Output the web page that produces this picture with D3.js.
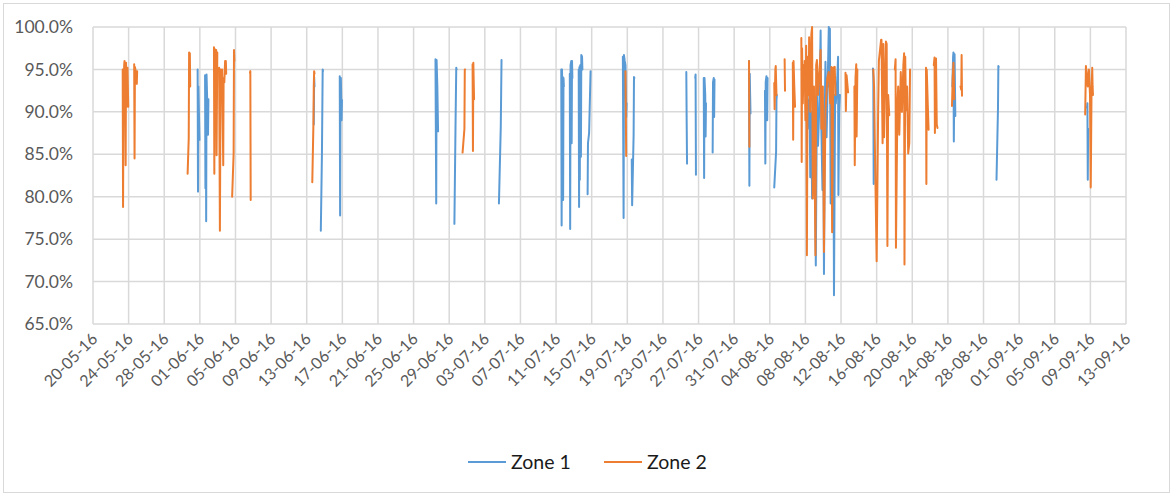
<!DOCTYPE html>
<html>
<head>
<meta charset="utf-8">
<script src="https://cdn.jsdelivr.net/npm/d3@7/dist/d3.min.js"></script>
<style>
  html, body { margin: 0; padding: 0; background: #fff; }
  svg { display: block; }
</style>
</head>
<body>
<svg id="chart" width="1173" height="496"></svg>
<script>
// Axis labels
const xTickLabels = [
  "20-05-16","24-05-16","28-05-16","01-06-16","05-06-16","09-06-16","13-06-16","17-06-16",
  "21-06-16","25-06-16","29-06-16","03-07-16","07-07-16","11-07-16","15-07-16","19-07-16",
  "23-07-16","27-07-16","31-07-16","04-08-16","08-08-16","12-08-16","16-08-16","20-08-16",
  "24-08-16","28-08-16","01-09-16","05-09-16","09-09-16","13-09-16"
];
const yTicks = [0.65, 0.70, 0.75, 0.80, 0.85, 0.90, 0.95, 1.00];
const seriesNames = ["Zone 1", "Zone 2"];

// Hourly readings in % ("MM-DD HH:MM" of 2016); null marks a gap in the record
const zone1 = [
  ["05-31 18:00",95.0],["05-31 19:00",80.6],["05-31 20:00",93.0],["05-31 23:00",86.7], null,
  ["06-01 14:00",94.3],["06-01 15:00",81.0],["06-01 16:00",94.0],["06-01 17:00",77.1],["06-01 18:00",94.4],["06-01 20:00",91.0],["06-01 22:00",87.3],["06-01 23:00",91.5], null,
  ["06-13 19:00",88.5],["06-13 20:00",94.1],["06-13 21:00",93.0], null,
  ["06-14 14:00",76.0],["06-14 17:00",85.0],["06-14 19:00",95.0],["06-14 20:00",94.8], null,
  ["06-16 17:00",94.2],["06-16 18:00",77.8],["06-16 19:00",93.0],["06-16 20:00",94.0],["06-16 22:00",89.0],["06-16 23:00",91.4], null,
  ["06-27 11:00",96.2],["06-27 13:00",79.2],["06-27 14:00",96.1],["06-27 16:00",93.0],["06-27 18:00",87.7], null,
  ["06-29 14:00",76.8],["06-29 17:00",88.3],["06-29 19:00",95.2],["06-29 20:00",95.0], null,
  ["07-04 14:00",79.2],["07-04 19:00",88.3],["07-04 21:00",96.1], null,
  ["07-11 14:00",95.0],["07-11 15:00",76.6],["07-11 16:00",95.0],["07-11 17:00",92.0],["07-11 18:00",94.1],["07-11 19:00",79.6],["07-11 20:00",94.0],["07-11 21:00",93.0], null,
  ["07-12 13:00",94.5],["07-12 14:00",76.2],["07-12 15:00",95.5],["07-12 17:00",96.0],["07-12 18:00",86.3],["07-12 19:00",96.0],["07-12 20:00",94.0], null,
  ["07-13 13:00",95.0],["07-13 14:00",78.8],["07-13 15:00",95.3],["07-13 16:00",82.0],["07-13 17:00",95.5],["07-13 19:00",84.7],["07-13 20:00",96.7],["07-13 22:00",96.5],["07-13 23:00",95.0], null,
  ["07-14 13:00",80.3],["07-14 14:00",86.3],["07-14 17:00",87.5],["07-14 21:00",94.8], null,
  ["07-18 12:00",96.5],["07-18 14:00",77.5],["07-18 15:00",96.7],["07-18 17:00",96.0],["07-18 19:00",95.5],["07-18 21:00",89.4],["07-18 22:00",91.0], null,
  ["07-19 12:00",84.4],["07-19 13:00",79.0],["07-19 17:00",87.3],["07-19 18:00",94.1],["07-19 19:00",94.0], null,
  ["07-25 15:00",94.7],["07-25 16:00",88.8],["07-25 17:00",83.9], null,
  ["07-26 15:00",94.0],["07-26 16:00",94.4],["07-26 17:00",82.6], null,
  ["07-27 14:00",94.0],["07-27 15:00",82.2],["07-27 16:00",94.0],["07-27 18:00",92.0],["07-27 19:00",87.1],["07-27 20:00",91.0], null,
  ["07-28 14:00",85.2],["07-28 15:00",93.5],["07-28 17:00",94.0],["07-28 18:00",89.4],["07-28 19:00",93.8], null,
  ["08-01 16:00",96.0],["08-01 17:00",81.3],["08-01 18:00",94.5],["08-01 19:00",92.0],["08-01 20:00",89.8], null,
  ["08-03 11:00",92.5],["08-03 12:00",83.9],["08-03 13:00",93.5],["08-03 15:00",94.2],["08-03 17:00",89.0],["08-03 18:00",94.0], null,
  ["08-04 12:00",81.1],["08-04 17:00",85.3],["08-04 18:00",91.4],["08-04 19:00",92.0], null,
  ["08-08 07:00",91.4],["08-08 10:00",88.0],["08-08 11:00",93.0],["08-08 13:00",82.3],["08-08 16:00",90.0],["08-08 18:00",79.8],["08-08 20:00",92.0],
  ["08-09 01:00",89.0],["08-09 04:00",71.9],["08-09 07:00",92.0],["08-09 10:00",86.0],["08-09 13:00",90.0],["08-09 15:00",94.0],["08-09 17:00",99.6],["08-09 19:00",88.0],["08-09 22:00",80.8],
  ["08-10 00:00",90.0],["08-10 02:00",70.9],["08-10 05:00",93.0],["08-10 06:00",95.9],["08-10 09:00",87.0],["08-10 11:00",91.0],["08-10 15:00",100.0],["08-10 16:00",93.0],["08-10 18:00",99.8],["08-10 20:00",79.2],["08-10 23:00",90.0],
  ["08-11 01:00",93.0],["08-11 03:00",95.0],["08-11 05:00",68.4],["08-11 08:00",92.0],["08-11 10:00",91.0],["08-11 14:00",94.0],["08-11 16:00",96.5],["08-11 17:00",80.2],["08-11 19:00",90.0],["08-11 21:00",92.0], null,
  ["08-15 14:00",95.1],["08-15 15:00",94.0],["08-15 16:00",81.5],["08-15 17:00",86.0], null,
  ["08-24 12:00",93.0],["08-24 14:00",96.5],["08-24 15:00",97.0],["08-24 16:00",86.5],["08-24 18:00",96.8],["08-24 20:00",89.5], null,
  ["08-29 11:00",82.0],["08-29 15:00",90.4],["08-29 16:00",95.4],["08-29 17:00",95.3], null,
  ["09-08 15:00",90.5],["09-08 16:00",91.0],["09-08 17:00",82.0],["09-08 18:00",88.0]
];

const zone2 = [
  ["05-23 08:00",95.0],["05-23 09:00",78.8],["05-23 10:00",90.6],["05-23 12:00",95.5],["05-23 13:00",96.0],["05-23 15:00",90.6],["05-23 16:00",83.7],["05-23 17:00",95.8],["05-23 19:00",90.6],["05-23 21:00",95.2],["05-23 23:00",90.6], null,
  ["05-24 15:00",95.6],["05-24 16:00",84.5],["05-24 17:00",95.3],["05-24 20:00",94.6],["05-24 22:00",93.3],["05-24 23:00",94.8], null,
  ["05-30 15:00",82.7],["05-30 18:00",86.9],["05-30 19:00",97.0],["05-30 21:00",96.9],["05-30 22:00",93.0], null,
  ["06-02 14:00",97.6],["06-02 15:00",82.7],["06-02 16:00",97.4],["06-02 18:00",90.0],["06-02 20:00",97.3],["06-02 21:00",84.9],["06-02 23:00",97.0], null,
  ["06-03 04:00",95.2],["06-03 06:00",76.0],["06-03 08:00",95.0],["06-03 10:00",92.0],["06-03 12:00",95.0],["06-03 15:00",83.7],["06-03 16:00",94.0],["06-03 18:00",93.5],["06-03 20:00",96.0],["06-03 22:00",96.0],["06-03 23:00",94.5], null,
  ["06-04 15:00",80.0],["06-04 19:00",85.1],["06-04 20:00",97.3],["06-04 21:00",96.0], null,
  ["06-06 15:00",94.6],["06-06 16:00",94.8],["06-06 17:00",79.6], null,
  ["06-13 15:00",81.7],["06-13 18:00",88.5],["06-13 19:00",93.0],["06-13 20:00",94.8],["06-13 21:00",94.5], null,
  ["06-30 12:00",85.2],["06-30 17:00",88.0],["06-30 18:00",95.0],["06-30 19:00",95.0], null,
  ["07-01 15:00",95.6],["07-01 16:00",85.4],["07-01 17:00",95.8],["07-01 19:00",91.5], null,
  ["07-18 19:00",94.8],["07-18 20:00",90.0],["07-18 21:00",84.8], null,
  ["08-01 16:00",96.0],["08-01 17:00",85.9], null,
  ["08-04 12:00",93.4],["08-04 13:00",90.3],["08-04 15:00",95.0],["08-04 16:00",95.4],["08-04 18:00",92.0], null,
  ["08-05 16:00",96.2],["08-05 17:00",92.5], null,
  ["08-06 14:00",95.8],["08-06 15:00",86.7],["08-06 16:00",96.0],["08-06 18:00",93.0],["08-06 20:00",90.6], null,
  ["08-07 13:00",98.7],["08-07 14:00",84.1],["08-07 15:00",97.5],["08-07 17:00",91.0],["08-07 19:00",95.5],["08-07 20:00",93.0], null,
  ["08-07 22:00",96.0],["08-08 00:00",89.0],["08-08 02:00",97.8],["08-08 04:00",73.1],["08-08 06:00",96.5],["08-08 09:00",92.0],["08-08 10:00",98.8],["08-08 13:00",90.0],["08-08 16:00",99.2],["08-08 18:00",100.0],["08-08 20:00",79.8],["08-08 23:00",93.0],
  ["08-09 03:00",73.1],["08-09 05:00",95.5],["08-09 07:00",96.1],["08-09 10:00",92.0],["08-09 13:00",94.0],["08-09 17:00",97.3],["08-09 19:00",88.0],["08-09 23:00",93.0],
  ["08-10 02:00",73.5],["08-10 06:00",90.0],["08-10 11:00",94.0],["08-10 15:00",94.7],["08-10 19:00",91.0],["08-10 22:00",95.3],
  ["08-11 00:00",75.8],["08-11 03:00",95.2],["08-11 07:00",95.3],["08-11 09:00",92.0], null,
  ["08-12 12:00",94.6],["08-12 13:00",90.1],["08-12 15:00",94.3],["08-12 19:00",92.3], null,
  ["08-13 12:00",93.0],["08-13 13:00",83.7],["08-13 15:00",94.0],["08-13 17:00",95.6],["08-13 18:00",87.1],["08-13 20:00",95.0], null,
  ["08-15 15:00",95.0],["08-15 17:00",93.0],["08-15 19:00",86.7],["08-16 00:00",72.4],["08-16 04:00",90.0],["08-16 06:00",96.0],["08-16 12:00",98.5],["08-16 13:00",98.5],["08-16 16:00",86.3],["08-16 18:00",98.0],["08-16 20:00",87.0],
  ["08-17 01:00",98.3],["08-17 03:00",98.0],["08-17 05:00",74.2],["08-17 07:00",92.0],["08-17 10:00",89.6], null,
  ["08-18 01:00",95.0],["08-18 03:00",96.2],["08-18 04:00",74.0],["08-18 08:00",91.0],["08-18 10:00",93.0],["08-18 13:00",87.3],["08-18 17:00",94.7],["08-18 20:00",90.0],
  ["08-19 00:00",95.5],["08-19 02:00",96.9],["08-19 03:00",72.0],["08-19 05:00",96.5],["08-19 07:00",90.2],["08-19 10:00",93.0],["08-19 13:00",85.1],["08-19 16:00",86.3],["08-19 18:00",95.0], null,
  ["08-21 13:00",95.2],["08-21 14:00",81.5],["08-21 15:00",95.0],["08-21 18:00",90.5],["08-21 20:00",87.9], null,
  ["08-22 10:00",95.5],["08-22 12:00",96.4],["08-22 13:00",87.5],["08-22 16:00",96.3],["08-22 18:00",88.5],["08-22 20:00",88.1], null,
  ["08-24 11:00",90.7],["08-24 13:00",94.0],["08-24 15:00",95.8],["08-24 17:00",91.5], null,
  ["08-25 10:00",93.0],["08-25 12:00",92.6],["08-25 13:00",96.7],["08-25 14:00",91.9], null,
  ["09-08 10:00",89.7],["09-08 12:00",95.4],["09-08 14:00",94.5],["09-08 17:00",93.0],["09-08 20:00",95.0],["09-08 23:00",92.0],
  ["09-09 01:00",81.1],["09-09 03:00",92.0],["09-09 05:00",95.2],["09-09 06:00",93.0],["09-09 07:00",92.0]
];

const colors = ["#5B9BD5", "#ED7D31"];

// ---- layout ----
const W = 1173, H = 496;
const plot = { left: 93, right: 1126, top: 27, bottom: 324 };
const labelColor = "#595959";
const gridColor = "#d9d9d9";
const fontFamily = "Lato, 'Open Sans', sans-serif";

const svg = d3.select("#chart");

svg.append("rect")
  .attr("x", 3.5).attr("y", 3.5)
  .attr("width", W - 7).attr("height", H - 7)
  .attr("fill", "#fff").attr("stroke", gridColor).attr("stroke-width", 1);

const parseTick = d3.utcParse("%d-%m-%y");
const parseTime = s => d3.utcParse("%Y-%m-%d %H:%M")("2016-" + s);
const tickDates = xTickLabels.map(parseTick);

const x = d3.scaleUtc()
  .domain([tickDates[0], tickDates[tickDates.length - 1]])
  .range([plot.left, plot.right]);
const y = d3.scaleLinear().domain([0.65, 1.0]).range([plot.bottom, plot.top]);

// gridlines
const grid = svg.append("g");
grid.selectAll("line.h").data(yTicks).join("line")
  .attr("x1", plot.left).attr("x2", plot.right)
  .attr("y1", d => y(d)).attr("y2", d => y(d))
  .attr("stroke", gridColor).attr("stroke-width", 1.5);
grid.selectAll("line.v").data(tickDates).join("line")
  .attr("x1", d => x(d)).attr("x2", d => x(d))
  .attr("y1", plot.top).attr("y2", plot.bottom)
  .attr("stroke", gridColor).attr("stroke-width", 1.5);

// y axis labels
const yAxis = d3.axisLeft(y).tickValues(yTicks).tickFormat(d3.format(".1%")).tickSize(0).tickPadding(20);
svg.append("g").attr("transform", `translate(${plot.left},0)`).call(yAxis)
  .call(g => g.select(".domain").remove())
  .selectAll("text")
  .attr("fill", labelColor).attr("font-family", fontFamily).attr("font-size", 17.5);

// x axis labels, rotated
const xAxis = d3.axisBottom(x).tickValues(tickDates).tickFormat((d, i) => xTickLabels[i]).tickSize(0);
svg.append("g").attr("transform", `translate(0,${plot.bottom})`).call(xAxis)
  .call(g => g.select(".domain").remove())
  .selectAll("text")
  .attr("fill", labelColor).attr("font-family", fontFamily).attr("font-size", 16)
  .attr("text-anchor", "end")
  .attr("dy", "0.35em")
  .attr("transform", "translate(1,12) rotate(-45)")
  .attr("x", 0).attr("y", 0);

// series lines
const series = [zone1, zone2].map(arr => arr.map(r => r ? { t: parseTime(r[0]), v: r[1] / 100 } : null));
const line = d3.line()
  .defined(d => d !== null)
  .x(d => x(d.t))
  .y(d => y(d.v));

svg.append("g").selectAll("path").data(series).join("path")
  .attr("d", line)
  .attr("fill", "none")
  .attr("stroke", (d, i) => colors[i])
  .attr("stroke-width", 2)
  .attr("stroke-linejoin", "round")
  .attr("stroke-linecap", "round");

// legend
const legend = svg.append("g").attr("transform", "translate(0,462)");
const legendX = [468, 604];
seriesNames.forEach((name, i) => {
  legend.append("line")
    .attr("x1", legendX[i]).attr("x2", legendX[i] + 38)
    .attr("y1", 0).attr("y2", 0)
    .attr("stroke", colors[i]).attr("stroke-width", 2);
  legend.append("text")
    .attr("x", legendX[i] + 43).attr("y", 0).attr("dy", "0.35em")
    .attr("fill", "#1a1a1a").attr("font-family", fontFamily).attr("font-size", 19.5)
    .text(name);
});
</script>
</body>
</html>
